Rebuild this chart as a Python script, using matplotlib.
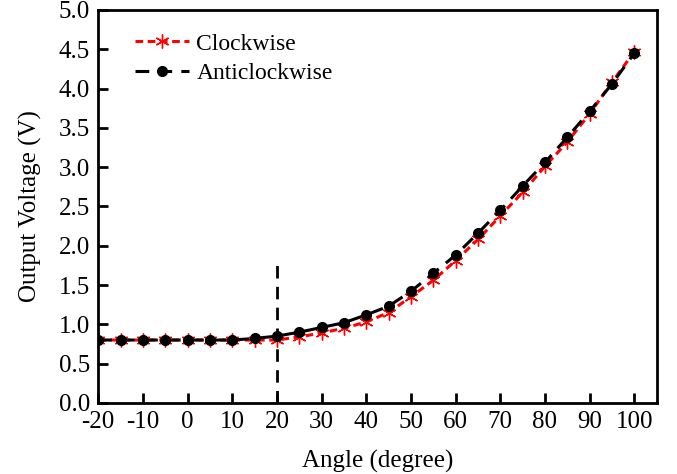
import numpy as np
import matplotlib.pyplot as plt

plt.rcParams['font.family'] = ['Liberation Serif', 'DejaVu Serif']
plt.rcParams['axes.unicode_minus'] = False

angle = [-20, -15, -10, -5, 0, 5, 10, 15, 20, 25, 30, 35, 40, 45, 50,
         55, 60, 65, 70, 75, 80, 85, 90, 95, 100]
clockwise = [0.80, 0.80, 0.80, 0.80, 0.80, 0.80, 0.80, 0.80, 0.80, 0.84, 0.89,
             0.95, 1.03, 1.15, 1.35, 1.56, 1.81, 2.08, 2.38, 2.68, 3.01, 3.32,
             3.68, 4.08, 4.47]
anticlockwise = [0.80, 0.80, 0.80, 0.80, 0.80, 0.80, 0.80, 0.82, 0.85, 0.90, 0.96,
                 1.02, 1.12, 1.23, 1.42, 1.65, 1.88, 2.16, 2.45, 2.76, 3.06, 3.38,
                 3.71, 4.06, 4.45]
marker_x = 20
marker_top = 1.8

fig = plt.figure(figsize=(6.77, 4.74), dpi=100)
ax = fig.add_axes([0.145, 0.150, 0.825, 0.829])

ax.plot(angle, clockwise, color="red", linestyle=(0, (2.5, 1.5)), linewidth=2.2,
        marker=(6, 2, 0), markersize=10, markeredgecolor="red",
        markeredgewidth=1.0, label="Clockwise", zorder=2)
ax.plot(angle, anticlockwise, color="black", linestyle=(0, (4.5, 3)), linewidth=2.2,
        marker="o", markersize=7, label="Anticlockwise", zorder=3)
ax.plot([marker_x, marker_x], [0, marker_top], color="black", linestyle=(0, (4.5, 3)),
        linewidth=2)

ax.set_xlim(-20, 105)
ax.set_ylim(0, 5)
ax.set_xticks(range(-20, 101, 10))
ax.set_xticklabels([str(v) for v in range(-20, 101, 10)])
ax.set_yticks(np.arange(0, 5.01, 0.5))
ax.set_yticklabels([f"{v:.1f}" for v in np.arange(0, 5.01, 0.5)])
ax.tick_params(direction="in", length=7, width=2, labelsize=18, pad=6,
               top=False, right=False)
for s in ax.spines.values():
    s.set_linewidth(2)

ax.set_xlabel("Angle (degree)", fontsize=18, labelpad=12)
ax.set_ylabel("Output Voltage (V)", fontsize=18, labelpad=12)
ax.legend(loc="upper left", frameon=False, fontsize=17, bbox_to_anchor=(0.028, 0.995),
          handlelength=2.3, handletextpad=0.3, labelspacing=0.35)

fig.savefig("out.png", dpi=100)
